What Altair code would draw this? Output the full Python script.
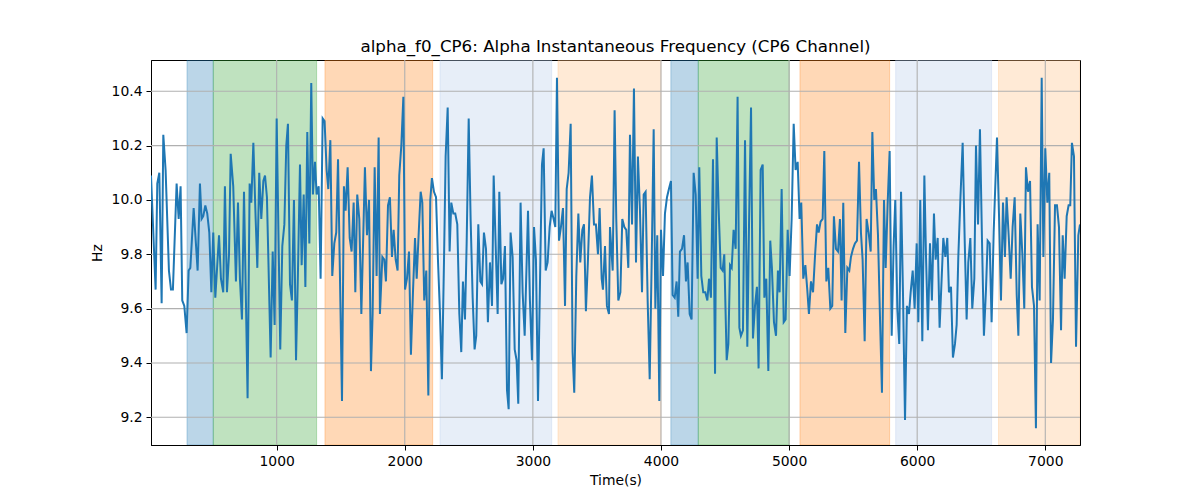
import altair as alt
import pandas as pd

TITLE = "alpha_f0_CP6: Alpha Instantaneous Frequency (CP6 Channel)"

# ---- series, split in segments ----
t1 = [19, 55, 68, 84, 102, 115, 133, 159, 175, 190, 219, 235, 250, 263, 279, 297, 313, 326, 352, 383,
      401, 414, 427, 443, 458, 474, 490, 505, 521, 550, 565, 583, 596, 612, 628, 641, 661, 682, 698, 713,
      729, 745, 760, 773, 789, 802, 818, 836, 849, 864, 880, 896]
h1 = [10.09, 9.67, 10.06, 10.10, 9.62, 10.24, 10.11, 9.74, 9.67, 9.67, 10.06, 9.93, 10.05, 9.63, 9.61, 9.51, 9.74, 9.75, 9.97, 9.74,
      10.06, 9.93, 9.94, 9.98, 9.95, 9.88, 9.66, 9.88, 9.64, 9.87, 9.71, 9.66, 10.05, 9.66, 9.80, 10.17, 10.05, 9.70, 9.99, 9.71,
      9.56, 10.03, 9.63, 9.27, 10.06, 9.99, 10.21, 9.93, 9.75, 10.10, 9.93, 10.07]

t2 = [909, 924, 953, 969, 984, 1000, 1028, 1044, 1060, 1075, 1088, 1104, 1119, 1135, 1151, 1166, 1182, 1195, 1211, 1224,
      1239, 1255, 1270, 1283, 1299, 1312, 1328, 1343, 1359, 1374, 1390, 1403, 1419, 1434, 1450, 1465, 1479, 1510, 1525, 1538,
      1554, 1570, 1585, 1601, 1614, 1629, 1645, 1661, 1689, 1705, 1721, 1736, 1749, 1765, 1780, 1796]
h2 = [10.09, 10.01, 9.42, 9.81, 9.54, 10.30, 9.45, 9.83, 9.91, 10.20, 10.28, 9.69, 9.63, 10.00, 9.41, 9.73, 10.13, 9.76, 10.02, 9.68,
      10.25, 9.84, 10.43, 10.02, 10.14, 10.02, 10.05, 9.71, 10.30, 10.29, 10.11, 10.04, 10.22, 9.72, 9.84, 9.88, 10.15, 9.26, 10.05, 9.96,
      10.12, 9.86, 9.81, 9.99, 9.66, 10.02, 9.93, 9.58, 10.12, 9.87, 10.00, 9.37, 9.58, 10.12, 9.72, 10.23]

t3 = [1806, 1825, 1840, 1853, 1869, 1884, 1900, 1913, 1929, 1944, 1957, 1973, 1989, 2002, 2017, 2033, 2048, 2064, 2080, 2093,
      2108, 2124, 2137, 2152, 2168, 2184, 2199, 2212, 2228, 2244, 2259, 2275, 2290, 2306, 2319, 2335, 2350, 2363, 2379, 2394,
      2410, 2426, 2441, 2454, 2470, 2483, 2499, 2514, 2530, 2545, 2558, 2574, 2590, 2603, 2618, 2634, 2649, 2665, 2681, 2694]
h3 = [9.58, 9.79, 9.78, 9.70, 9.98, 10.01, 9.79, 9.89, 9.78, 9.74, 10.09, 10.20, 10.38, 9.67, 9.71, 9.81, 9.43, 9.66, 9.86, 9.71,
      9.87, 10.03, 9.99, 9.63, 9.74, 9.28, 10.00, 10.08, 10.03, 10.01, 9.78, 9.58, 9.34, 9.77, 10.16, 10.34, 9.81, 9.99, 9.95, 9.95,
      9.91, 9.58, 9.44, 9.70, 9.56, 9.84, 10.30, 9.93, 9.64, 9.45, 9.50, 9.91, 9.70, 9.69, 9.88, 9.82, 9.55, 9.77, 9.61, 10.09]

t4 = [2725, 2738, 2754, 2767, 2782, 2798, 2811, 2826, 2842, 2858, 2873, 2886, 2904, 2920, 2936, 2962, 2977, 2993, 3009, 3024,
      3040, 3071, 3084, 3100, 3115, 3131, 3146, 3162, 3175, 3188, 3204, 3219, 3235, 3251, 3264, 3279, 3295, 3310, 3323, 3339,
      3355, 3370, 3386, 3399, 3414, 3430, 3446, 3461, 3477, 3492, 3508, 3521, 3537, 3547, 3563, 3578, 3594]
h4 = [9.58, 10.03, 9.69, 9.71, 9.83, 9.30, 9.23, 9.88, 9.79, 9.45, 9.41, 9.25, 9.99, 9.66, 9.50, 9.96, 9.63, 9.41, 9.90, 9.78,
      9.26, 10.13, 10.19, 9.74, 9.77, 9.90, 9.96, 9.93, 9.90, 10.45, 9.85, 9.90, 9.97, 9.61, 10.04, 10.10, 10.28, 9.44, 9.29, 9.72,
      9.95, 9.77, 9.89, 9.91, 9.59, 9.78, 10.01, 10.09, 9.91, 9.91, 9.80, 9.97, 9.71, 9.67, 9.83, 9.61, 9.58]

t5 = [3602, 3623, 3638, 3651, 3667, 3683, 3698, 3714, 3729, 3745, 3758, 3774, 3789, 3805, 3820, 3836, 3852, 3865, 3880, 3896,
      3912, 3927, 3943, 3956, 3971, 3987, 4000, 4016, 4031, 4047, 4062, 4078, 4091, 4107, 4122, 4135, 4148, 4164, 4180, 4195,
      4208, 4224, 4239, 4255, 4271, 4286, 4299, 4315, 4330, 4346, 4362, 4375, 4390, 4406, 4422, 4435, 4450, 4466, 4481, 4494]
h5 = [9.90, 9.74, 10.33, 9.93, 9.63, 9.66, 9.93, 9.90, 9.89, 9.75, 10.24, 9.91, 10.41, 9.77, 10.16, 9.96, 9.66, 10.02, 10.03, 9.63,
      9.34, 9.76, 10.26, 9.60, 9.87, 9.26, 9.89, 9.72, 9.95, 10.01, 10.04, 10.07, 9.65, 9.64, 9.70, 9.57, 9.81, 9.82, 9.87, 9.70,
      9.77, 9.58, 9.56, 10.10, 10.02, 9.71, 10.12, 9.72, 9.66, 9.66, 9.63, 9.71, 9.64, 10.15, 9.36, 10.23, 9.97, 9.75, 9.74, 9.80]

t6 = [4513, 4526, 4539, 4552, 4567, 4583, 4598, 4612, 4624, 4640, 4656, 4674, 4687, 4703, 4718, 4734, 4749, 4762, 4778, 4794,
      4807, 4822, 4838, 4853, 4866, 4882, 4898, 4913, 4926, 4942, 4958, 4973, 4989, 5004, 5020, 5036, 5051, 5067, 5082, 5095,
      5111, 5127, 5142, 5155, 5171, 5187, 5202, 5218, 5231, 5246, 5262, 5275, 5291, 5306, 5322, 5337, 5350, 5366, 5382]
h6 = [9.41, 9.47, 9.76, 9.75, 9.89, 9.82, 10.38, 9.53, 9.50, 9.52, 10.22, 9.46, 9.90, 10.34, 9.49, 9.61, 9.68, 9.38, 10.11, 10.13,
      9.64, 9.71, 9.37, 9.85, 9.75, 9.55, 9.50, 9.74, 9.66, 10.04, 9.55, 9.56, 9.89, 9.72, 9.93, 10.28, 10.11, 10.14, 9.93, 9.99,
      9.71, 9.76, 9.67, 9.58, 9.70, 9.66, 9.79, 9.91, 9.88, 9.92, 9.93, 10.18, 9.70, 9.75, 9.60, 9.61, 9.94, 9.82, 9.81]

t7 = [5397, 5410, 5423, 5439, 5455, 5470, 5483, 5499, 5514, 5530, 5546, 5561, 5574, 5590, 5605, 5621, 5637, 5650, 5665, 5678,
      5694, 5710, 5725, 5741, 5754, 5769, 5785, 5801, 5816, 5829, 5845, 5860, 5874, 5889, 5905, 5920, 5936, 5949, 5965, 5980,
      5996, 6009, 6024, 6040, 6056, 6069, 6084, 6100, 6115, 6131, 6144, 6160, 6175, 6191, 6204, 6220, 6235, 6248, 6264, 6279]
h7 = [9.93, 9.63, 9.99, 9.51, 9.75, 9.74, 9.79, 9.82, 9.84, 9.85, 10.14, 9.88, 9.78, 9.48, 9.93, 9.88, 9.81, 10.25, 10.00, 10.04,
      9.87, 9.56, 9.29, 10.00, 9.75, 9.98, 10.18, 9.50, 9.83, 10.00, 9.60, 9.47, 10.03, 9.66, 9.19, 9.61, 9.58, 9.66, 9.74, 9.60,
      9.84, 9.55, 10.00, 9.48, 10.09, 9.79, 9.52, 9.84, 9.63, 9.95, 9.78, 9.86, 9.53, 9.71, 9.86, 9.79, 9.86, 9.66, 9.68, 9.42]

t8 = [6295, 6308, 6321, 6337, 6355, 6371, 6386, 6399, 6415, 6430, 6446, 6459, 6475, 6490, 6506, 6521, 6537, 6550, 6566, 6581,
      6597, 6623, 6639, 6654, 6670, 6685, 6698, 6714, 6730, 6745, 6761, 6777, 6790, 6805, 6821, 6836, 6849, 6865, 6881, 6896,
      6912, 6927, 6940, 6956, 6972, 6985, 7000, 7016, 7031, 7045, 7060, 7076, 7091, 7107, 7123, 7136, 7151, 7167, 7182, 7195,
      7208, 7224, 7240, 7258, 7271]
h8 = [9.47, 9.54, 9.79, 10.00, 10.21, 9.85, 9.56, 9.77, 9.86, 9.60, 9.71, 10.20, 9.91, 10.26, 9.85, 9.50, 9.67, 9.85, 9.84, 9.55,
      9.88, 10.23, 9.94, 9.63, 9.99, 9.79, 10.01, 9.87, 9.71, 9.90, 10.01, 9.65, 9.50, 9.95, 9.80, 9.60, 10.12, 10.03, 10.07, 9.68,
      9.61, 9.16, 9.91, 9.63, 10.45, 9.79, 10.19, 9.99, 10.10, 9.40, 9.56, 9.98, 9.98, 9.90, 9.52, 9.87, 9.71, 9.94, 9.98, 9.98,
      10.21, 10.16, 9.46, 9.87, 9.91]

segments_t = [t1, t2, t3, t4, t5, t6, t7, t8]
segments_h = [h1, h2, h3, h4, h5, h6, h7, h8]
for i, (a, b) in enumerate(zip(segments_t, segments_h)):
    assert len(a) == len(b), f"segment {i + 1}: {len(a)} times vs {len(b)} values"
times = [v for s in segments_t for v in s]
hz = [v for s in segments_h for v in s]

# ---- shaded periods ----
band_start = [300, 505, 1377, 2275, 3196, 4077, 4291, 5085, 5832, 6635]
band_end = [505, 1312, 2218, 3147, 4000, 4291, 5002, 5785, 6581, 7271]
band_kind = ["k1", "k2", "k3", "k4", "k5", "k1", "k2", "k3", "k4", "k5"]
kind_names = ["k1", "k2", "k3", "k4", "k5"]
kind_colors = ["#1f77b4", "#2ca02c", "#ff7f0e", "#aec7e8", "#ffbb78"]

x_ticks = [1000, 2000, 3000, 4000, 5000, 6000, 7000]
y_ticks = [9.2, 9.4, 9.6, 9.8, 10.0, 10.2, 10.4]
x_domain = [19, 7271]
y_domain = [9.098, 10.515]

line_df = pd.DataFrame({"t": times, "hz": hz})
band_df = pd.DataFrame({"start": band_start, "end": band_end, "kind": band_kind})
xgrid_df = pd.DataFrame({"v": x_ticks})
ygrid_df = pd.DataFrame({"v": y_ticks})

FONT = "DejaVu Sans"
xscale = alt.Scale(domain=x_domain, nice=False, zero=False)
yscale = alt.Scale(domain=y_domain, nice=False, zero=False)
xaxis = alt.Axis(values=x_ticks, format="d", grid=False, title="Time(s)", titlePadding=6)
yaxis = alt.Axis(values=y_ticks, format=".1f", grid=False, title="Hz", titlePadding=7)
kscale = alt.Scale(domain=kind_names, range=kind_colors)

bands = alt.Chart(band_df).mark_rect(fillOpacity=0.3, strokeOpacity=0.3, strokeWidth=1, clip=True).encode(
    x=alt.X("start:Q", scale=xscale, axis=xaxis),
    x2="end:Q",
    fill=alt.Fill("kind:N", scale=kscale, legend=None),
    stroke=alt.Stroke("kind:N", scale=kscale, legend=None),
)

xgrid = alt.Chart(xgrid_df).mark_rule(color="#b0b0b0", strokeWidth=1.1).encode(
    x=alt.X("v:Q", scale=xscale, axis=xaxis)
)
ygrid = alt.Chart(ygrid_df).mark_rule(color="#b0b0b0", strokeWidth=1.1).encode(
    y=alt.Y("v:Q", scale=yscale, axis=yaxis)
)

line = alt.Chart(line_df).mark_line(color="#1f77b4", strokeWidth=2, clip=True).encode(
    x=alt.X("t:Q", scale=xscale, axis=xaxis),
    y=alt.Y("hz:Q", scale=yscale, axis=yaxis),
)

chart = alt.layer(bands, xgrid, ygrid, line).properties(
    width=929,
    height=385,
    autosize=alt.AutoSizeParams(type="none"),
    padding={"left": 143, "top": 52, "right": 112, "bottom": 47},
    title=alt.TitleParams(TITLE, font=FONT, fontSize=16.7, fontWeight="normal",
                          color="black", anchor="middle", offset=4),
).configure_view(
    stroke="black", strokeWidth=1
).configure_axis(
    labelFont=FONT, titleFont=FONT, labelFontSize=13.9, titleFontSize=13.9,
    titleFontWeight="normal", labelColor="black", titleColor="black",
    tickColor="black", domainColor="black", tickSize=5, tickWidth=1,
    labelPadding=4, domain=True,
)

chart.save("out.html", embed_options={"renderer": "svg", "actions": False})
